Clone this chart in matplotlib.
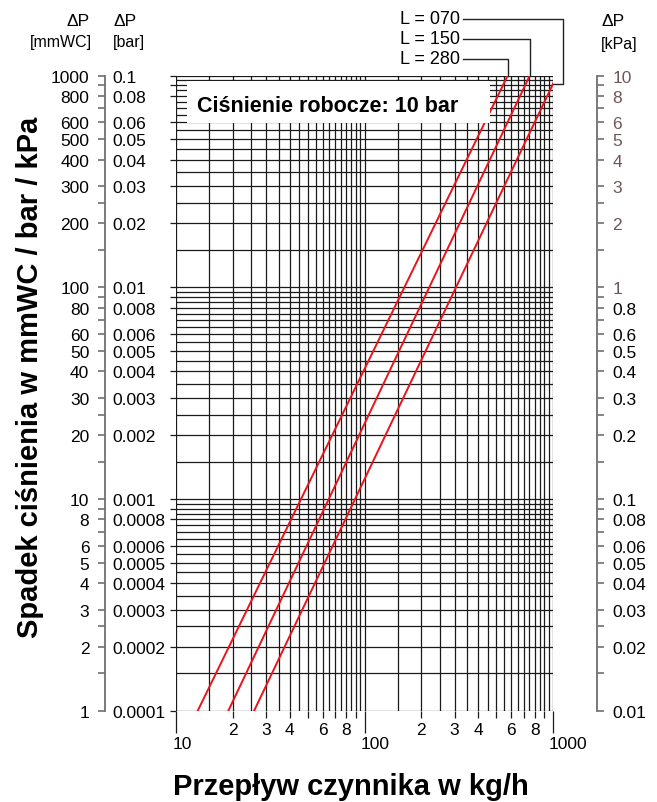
import numpy as np
import matplotlib.pyplot as plt
import matplotlib.transforms as mtransforms
from matplotlib.patches import Rectangle
from matplotlib.lines import Line2D
from matplotlib.ticker import NullLocator

plt.rcParams['font.family'] = ['Liberation Sans', 'DejaVu Sans']

# flow [kg/h] at dP = 1 mmWC and at dP = 1000 mmWC for each valve length
series = ['L = 070', 'L = 150', 'L = 280']
flow_at_1 = [25.9, 18.9, 13.0]
flow_at_1000 = [1050, 753, 575]
dp_range = [1, 1000]

# pressure scale labels (same positions, three units)
mmwc_ticks = [1, 2, 3, 4, 5, 6, 8, 10, 20, 30, 40, 50, 60, 80,
              100, 200, 300, 400, 500, 600, 800, 1000]
mmwc_labels = ['1', '2', '3', '4', '5', '6', '8', '10', '20', '30', '40', '50', '60', '80',
               '100', '200', '300', '400', '500', '600', '800', '1000']
bar_labels = ['0.0001', '0.0002', '0.0003', '0.0004', '0.0005', '0.0006', '0.0008',
              '0.001', '0.002', '0.003', '0.004', '0.005', '0.006', '0.008',
              '0.01', '0.02', '0.03', '0.04', '0.05', '0.06', '0.08', '0.1']
kpa_labels = ['0.01', '0.02', '0.03', '0.04', '0.05', '0.06', '0.08',
              '0.1', '0.2', '0.3', '0.4', '0.5', '0.6', '0.8',
              '1', '2', '3', '4', '5', '6', '8', '10']
minor_steps = [1.5, 2.5, 7, 9]

flow_major = [10, 100, 1000]
flow_major_labels = ['10', '100', '1000']
flow_minor = [20, 30, 40, 50, 60, 70, 80, 90, 200, 300, 400, 500, 600, 700, 800, 900]
flow_minor_labels = ['2', '3', '4', '', '6', '', '8', ''] * 2

W, H = 657, 803
def fx(px):
    return px / W
def fy(py):
    return 1 - py / H

GRAY = '#707070'
BROWN = '#6e5757'
RED = '#e8131b'
FS = 12.5

fig = plt.figure(figsize=(W / 100, H / 100), dpi=100)

top, bot = 76.5, 711.7
left, right = 176.3, 553
ax = fig.add_axes([fx(left), fy(bot), fx(right) - fx(left), fy(top) - fy(bot)])
ax.set_xscale('log')
ax.set_yscale('log')
ax.set_xlim(10, 1000)
ax.set_ylim(1, 1000)
for s in ax.spines.values():
    s.set_visible(False)

# dense chart grid: half steps in every decade
xgrid = list(np.arange(10, 100, 5)) + list(np.arange(100, 1000, 50)) + [1000]
ygrid = [m * d for d in (1, 10, 100) for m in np.arange(1, 10, 0.5)] + [1000]
for v in xgrid:
    ax.axvline(v, color='#1a1a1a', lw=0.9, zorder=1)
for v in ygrid:
    ax.axhline(v, color='#1a1a1a', lw=0.9, zorder=1)

# x axis ticks
ax.set_xticks(flow_major)
ax.set_xticklabels(flow_major_labels)
ax.set_xticks(flow_minor, minor=True)
ax.set_xticklabels(flow_minor_labels, minor=True)
ax.tick_params(axis='x', which='major', length=15.5, width=0.9, pad=3, labelsize=FS, color='#1a1a1a')
ax.tick_params(axis='x', which='minor', length=5, width=0.9, pad=3, labelsize=FS, color='#1a1a1a')
shift = mtransforms.ScaledTranslation(-3 / 72, 0, fig.dpi_scale_trans)
for lbl in ax.get_xticklabels():
    lbl.set_horizontalalignment('left')
    lbl.set_transform(lbl.get_transform() + shift)

ax.set_yticks([1, 2, 3, 4, 5, 6, 8, 9, 10, 20, 30, 40, 50, 60, 80, 90, 100,
               200, 300, 400, 500, 600, 800, 900, 1000])
ax.yaxis.set_minor_locator(NullLocator())
ax.tick_params(axis='y', which='major', length=4.5, width=0.9, labelleft=False, color='#1a1a1a')

# pressure-drop curves
for f1, f2 in zip(flow_at_1, flow_at_1000):
    ax.plot([f1, f2], dp_range, color=RED, lw=1.4, zorder=3)

# box with operating pressure
ax.add_patch(Rectangle((fx(187), fy(124)), fx(490) - fx(187), fy(82) - fy(124),
                       transform=fig.transFigure, facecolor='white', edgecolor='none',
                       zorder=4, clip_on=False))
fig.text(fx(197), fy(112.5), 'Ciśnienie robocze: 10 bar', fontsize=15.5, fontweight='bold',
         ha='left', va='baseline', zorder=5)

# left scale: mmWC and bar
minor_pos = [m * d for d in (1, 10, 100) for m in minor_steps]
axl = fig.add_axes([fx(105), fy(bot), 1e-4, fy(top) - fy(bot)])
axl.set_yscale('log')
axl.set_ylim(1, 1000)
axl.set_xticks([])
for k, s in axl.spines.items():
    s.set_visible(k == 'left')
axl.spines['left'].set_color(GRAY)
axl.spines['left'].set_linewidth(1.3)
axl.set_yticks(mmwc_ticks)
axl.set_yticklabels(mmwc_labels)
axl.set_yticks(minor_pos, minor=True)
axl.yaxis.set_minor_formatter(plt.NullFormatter())
axl.tick_params(axis='y', which='both', direction='out', length=5.3, width=1.2,
                color=GRAY, labelsize=FS, pad=6)

axb = axl.twinx()
axb.set_yscale('log')
axb.set_ylim(1, 1000)
for s in axb.spines.values():
    s.set_visible(False)
axb.set_yticks(mmwc_ticks)
axb.set_yticklabels(bar_labels)
axb.yaxis.set_minor_locator(NullLocator())
axb.tick_params(axis='y', length=0, labelsize=FS, pad=5)

# right scale: kPa
axr = fig.add_axes([fx(597), fy(bot), 1e-4, fy(top) - fy(bot)])
axr.set_yscale('log')
axr.set_ylim(0.01, 10)
axr.set_xticks([])
for k, s in axr.spines.items():
    s.set_visible(k == 'right')
axr.spines['right'].set_color(GRAY)
axr.spines['right'].set_linewidth(1.3)
axr.yaxis.tick_right()
axr.set_yticks([v / 100 for v in mmwc_ticks])
axr.set_yticklabels(kpa_labels)
axr.set_yticks([v / 100 for v in minor_pos], minor=True)
axr.yaxis.set_minor_formatter(plt.NullFormatter())
axr.tick_params(axis='y', which='both', direction='out', length=5, width=1.2,
                color=GRAY, labelsize=FS, pad=6)
for lbl, s in zip(axr.get_yticklabels(), kpa_labels):
    lbl.set_color(BROWN if float(s) >= 1 else 'black')

# column headers
fig.text(fx(90), fy(21), 'ΔP', fontsize=12.5, ha='right', va='center')
fig.text(fx(92), fy(42), '[mmWC]', fontsize=11.5, ha='right', va='center')
fig.text(fx(113), fy(21), 'ΔP', fontsize=12.5, ha='left', va='center')
fig.text(fx(113), fy(43), '[bar]', fontsize=11.5, ha='left', va='center')
fig.text(fx(602), fy(21), 'ΔP', fontsize=12.5, ha='left', va='center')
fig.text(fx(601), fy(45), '[kPa]', fontsize=11.5, ha='left', va='center')

# series labels with leader lines to the curve ends
to_fig = ax.transData + fig.transFigure.inverted()
label_y = [20, 39.5, 59.5]
for name, f1, f2, ty in zip(series, flow_at_1, flow_at_1000, label_y):
    b = 3 / np.log10(f2 / f1)
    if f2 <= 1000:
        ex, ey = to_fig.transform((f2, 1000))
        pts = [(fx(463), fy(ty)), (ex, fy(ty)), (ex, ey)]
    else:
        yend = 10 ** (b * np.log10(1000 / f1))
        ex, ey = to_fig.transform((1000, yend))
        pts = [(fx(463), fy(ty)), (fx(563), fy(ty)), (fx(563), ey), (ex, ey)]
    xs, ys = zip(*pts)
    fig.add_artist(Line2D(xs, ys, transform=fig.transFigure, color='#222222', lw=1))
    fig.text(fx(460), fy(ty), name, fontsize=13, ha='right', va='center')

# axis titles
fig.text(fx(30), fy(377), 'Spadek ciśnienia w mmWC / bar / kPa', fontsize=21,
         fontweight='bold', rotation=90, ha='center', va='center')
fig.text(fx(351), fy(795), 'Przepływ czynnika w kg/h', fontsize=21,
         fontweight='bold', ha='center', va='baseline')

fig.savefig('out.png', dpi=100)
